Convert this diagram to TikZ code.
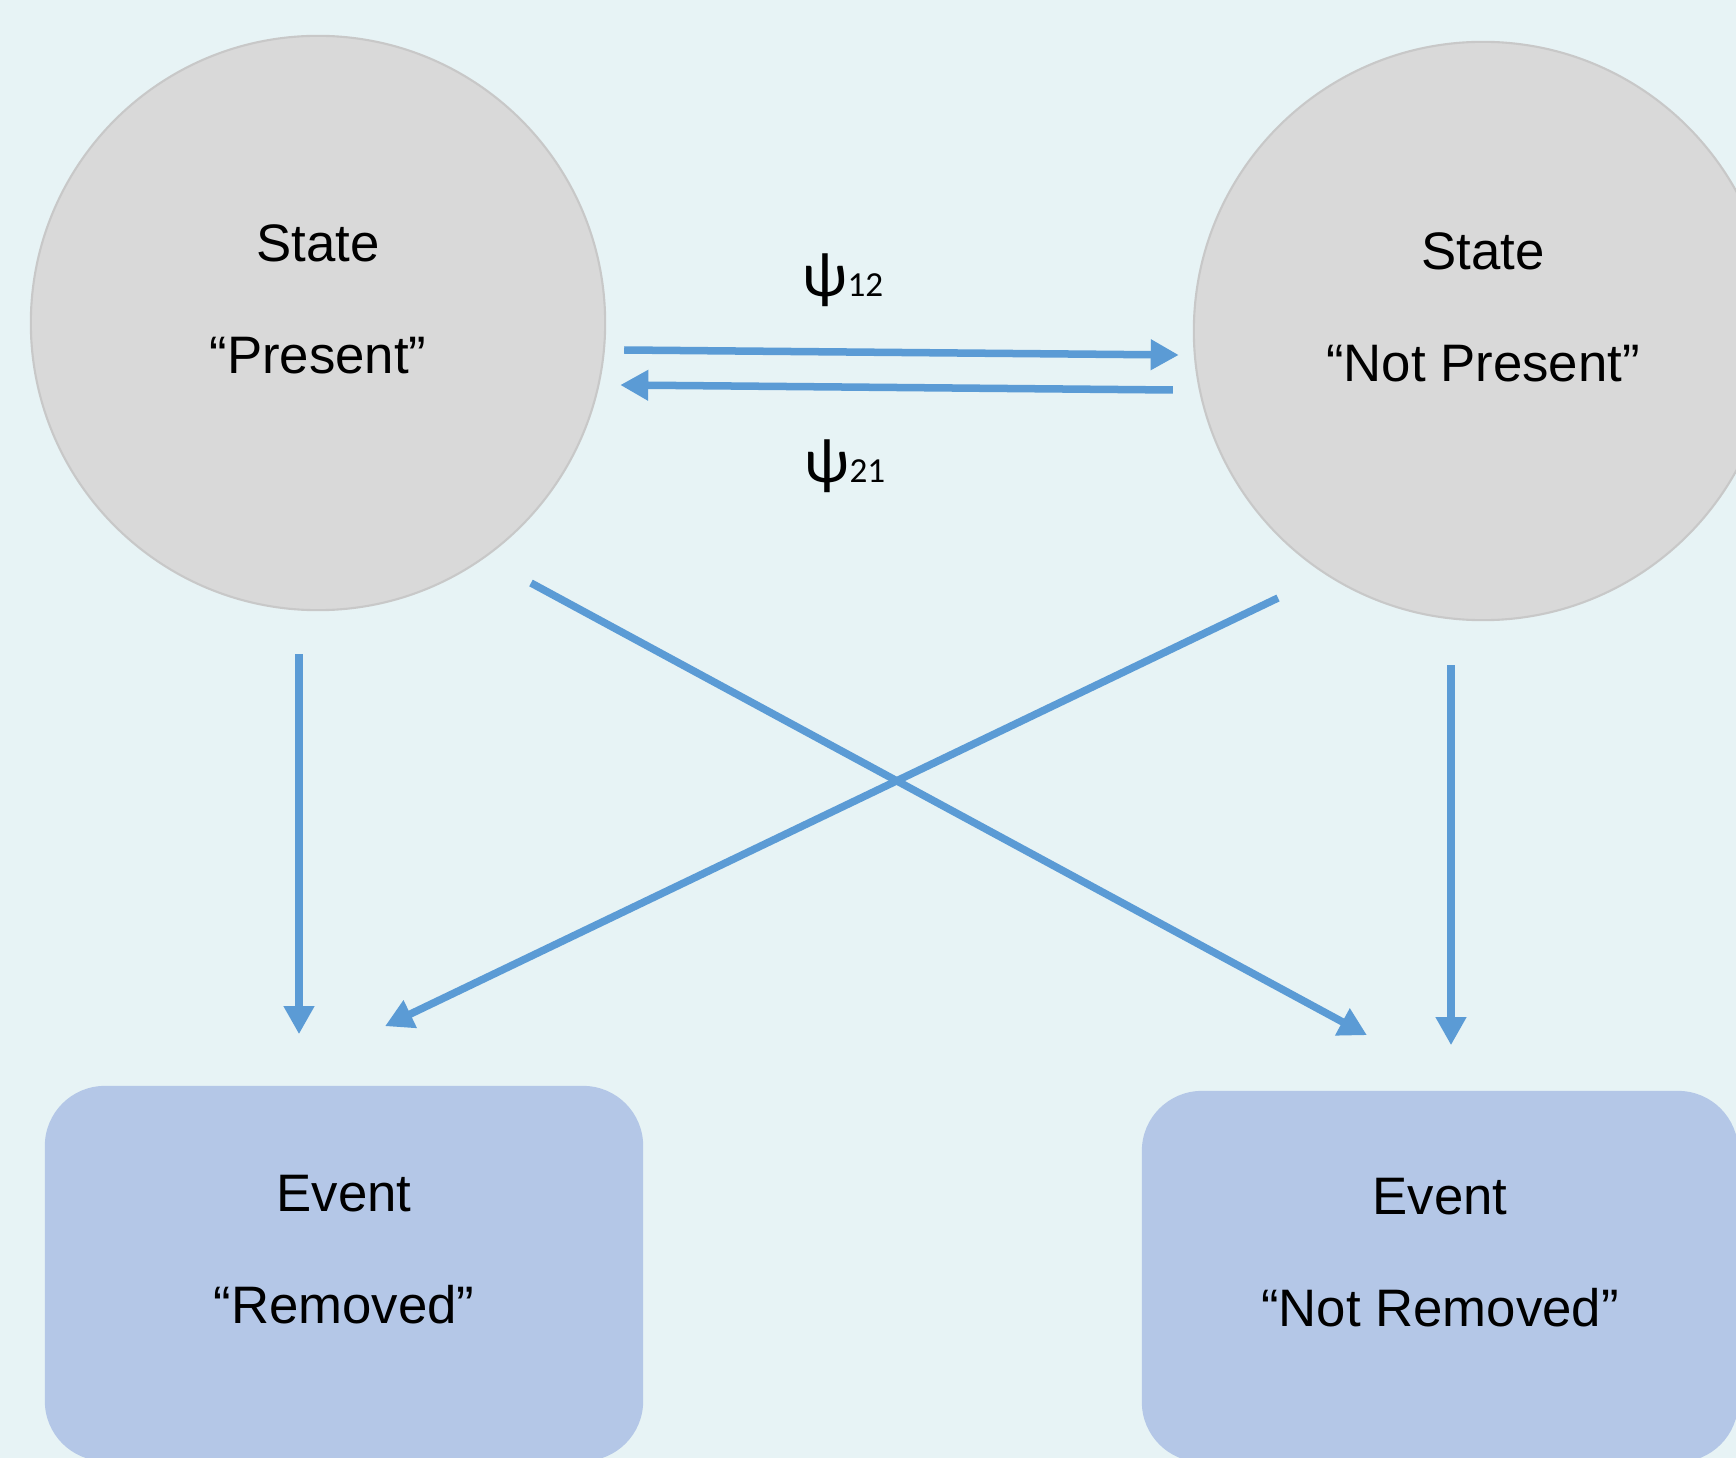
\documentclass[tikz,border=0pt]{standalone}
\usepackage{fontspec}
\setmainfont{Liberation Sans}
\newfontfamily\calibri{Carlito}
\usetikzlibrary{arrows.meta}
\definecolor{bgblue}{HTML}{E7F3F5}
\definecolor{stategray}{HTML}{D9D9D9}
\definecolor{stateline}{HTML}{C8C8C8}
\definecolor{eventblue}{HTML}{B4C7E7}
\definecolor{flowblue}{HTML}{5B9BD5}
\newcommand\padbelow{\rule[-0.48cm]{0pt}{0.48cm}}
\newcommand\psilabel[1]{{\calibri\fontsize{18pt}{18pt}\selectfont ψ\fontsize{10pt}{10pt}\selectfont #1}}
\begin{document}
\begin{tikzpicture}[x=0.01cm, y=-0.01cm,
  font=\fontsize{15pt}{32pt}\selectfont,
  statenode/.style={circle, fill=stategray, draw=stateline, line width=0.6pt, inner sep=0pt, align=center},
  eventbox/.style={rectangle, rounded corners=0.6cm, fill=eventblue, inner sep=0pt, align=center},
  flow/.style={draw=flowblue, line width=0.075cm, -{Triangle[width=0.29cm,length=0.28cm]}}]
\useasboundingbox (0,0) rectangle (1736,1458);
\fill[bgblue] (0,0) rectangle (1736,1458);

\node[statenode, minimum size=5.74cm] (pres) at (318,323) {State\\“Present”\padbelow};
\node[statenode, minimum size=5.78cm] (notp) at (1483,331) {State\\“Not Present”\padbelow};
\node[eventbox, minimum width=5.98cm, minimum height=3.75cm] (rem) at (344,1273.5) {Event\\“Removed”\padbelow};
\node[eventbox, minimum width=5.96cm, minimum height=3.71cm] (notr) at (1440,1276.5) {Event\\“Not Removed”\padbelow};

\node[anchor=base] (psi12) at (843,297) {\psilabel{12}};
\node[anchor=base] (psi21) at (845,483) {\psilabel{21}};

\draw[flow] ([shift={(18,27)}]pres.east) -- ([shift={(-14,24)}]notp.west);
\draw[flow] ([shift={(-20,59)}]notp.west) -- ([shift={(14,62)}]pres.east);
\draw[flow] ([shift={(-19,43)}]pres.south) -- ([shift={(-45,-51)}]rem.north);
\draw[flow] ([shift={(-32,44)}]notp.south) -- ([shift={(11,-45)}]notr.north);
\draw[flow] ([shift={(213,260)}]pres.center) -- ([shift={(-73,-55)}]notr.north);
\draw[flow] ([shift={(-205,267)}]notp.center) -- ([shift={(41,-59)}]rem.north);
\end{tikzpicture}
\end{document}
